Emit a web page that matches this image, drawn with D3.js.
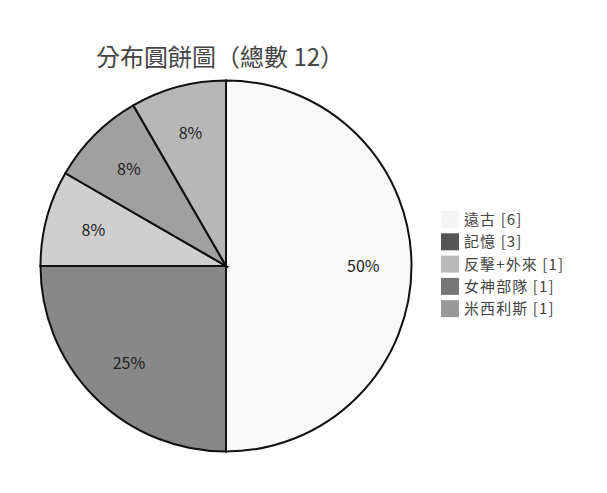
<!DOCTYPE html>
<html>
<head>
<meta charset="utf-8">
<script src="https://cdn.jsdelivr.net/npm/d3@7"></script>
<style>
  body { margin: 0; background: #fff; }
  text { font-family: "Noto Sans CJK TC", "Noto Sans", sans-serif; }
</style>
</head>
<body>
<div id="chart-area"></div>
<script>
// chart data
var categories = ["遠古", "記憶", "反擊+外來", "女神部隊", "米西利斯"];
var counts = [6, 3, 1, 1, 1];
var colors = ["#f5f5f5", "#555555", "#bbbbbb", "#777777", "#999999"];

var total = d3.sum(counts);
var data = categories.map(function(c, i){
    return { name: c, value: counts[i], color: colors[i] };
});

var svg = d3.select("#chart-area").append("svg")
    .attr("width", 607)
    .attr("height", 493);

svg.append("text")
    .attr("x", 96)
    .attr("y", 66)
    .attr("font-size", 24)
    .attr("fill", "#444")
    .text("分布圓餅圖（總數 " + total + "）");

var cx = 226, cy = 266, r = 185.5;

var pie = d3.pie()
    .sort(null)
    .value(function(d){ return d.value; });

var arc = d3.arc().innerRadius(0).outerRadius(r);
var labelArc = d3.arc().innerRadius(r * 0.74).outerRadius(r * 0.74);

var g = svg.append("g").attr("transform", "translate(" + cx + "," + cy + ")");

var slices = g.selectAll("g.slice")
    .data(pie(data))
    .enter().append("g")
    .attr("class", "slice");

slices.append("path")
    .attr("d", arc)
    .attr("fill", function(d){ return d.data.color; })
    .attr("fill-opacity", 0.7);

slices.append("path")
    .attr("d", arc)
    .attr("fill", "none")
    .attr("stroke", "#111")
    .attr("stroke-width", 2);

slices.append("text")
    .attr("transform", function(d){
        var c = labelArc.centroid(d);
        return "translate(" + c[0] + "," + c[1] + ")";
    })
    .attr("text-anchor", "middle")
    .attr("dy", "0.35em")
    .attr("font-size", 16)
    .attr("fill", "#222")
    .text(function(d){
        return Math.round(d.data.value / total * 100) + "%";
    });

// legend
var legend = svg.append("g").attr("transform", "translate(441,211)");
var items = legend.selectAll("g")
    .data(data)
    .enter().append("g")
    .attr("transform", function(d, i){ return "translate(0," + (i * 22.3) + ")"; });

items.append("rect")
    .attr("width", 18)
    .attr("height", 17)
    .attr("fill", function(d){ return d.color; });

items.append("text")
    .attr("x", 23)
    .attr("y", 14)
    .attr("font-size", 15)
    .attr("letter-spacing", 1.1)
    .attr("fill", "#444")
    .text(function(d){ return d.name + " [" + d.value + "]"; });
</script>
</body>
</html>
